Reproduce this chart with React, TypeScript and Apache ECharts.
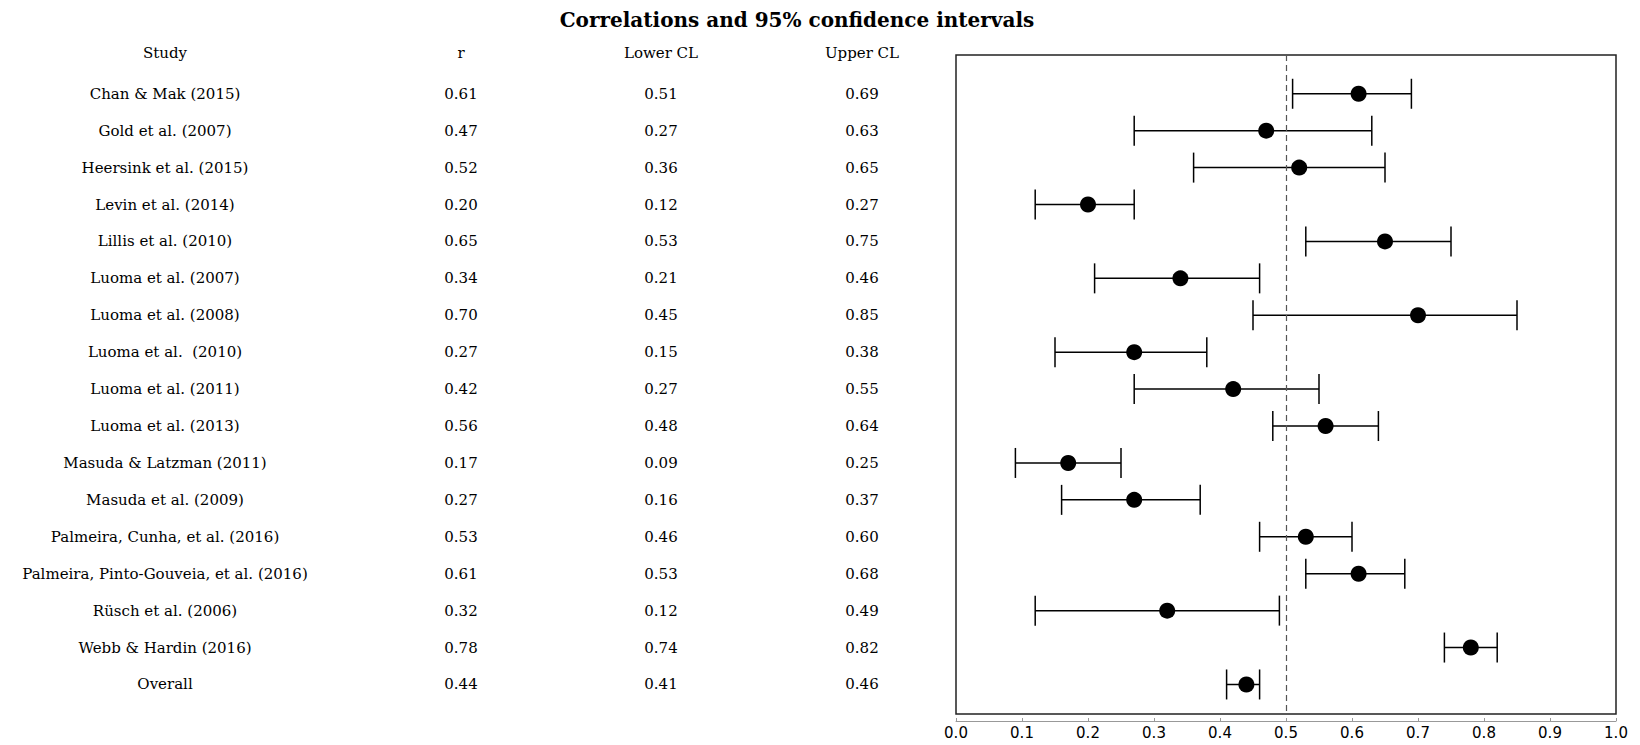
import React, { useEffect, useRef } from "react";
import * as echarts from "echarts";

const studies = [
  "Chan & Mak (2015)",
  "Gold et al. (2007)",
  "Heersink et al. (2015)",
  "Levin et al. (2014)",
  "Lillis et al. (2010)",
  "Luoma et al. (2007)",
  "Luoma et al. (2008)",
  "Luoma et al.  (2010)",
  "Luoma et al. (2011)",
  "Luoma et al. (2013)",
  "Masuda & Latzman (2011)",
  "Masuda et al. (2009)",
  "Palmeira, Cunha, et al. (2016)",
  "Palmeira, Pinto-Gouveia, et al. (2016)",
  "Rüsch et al. (2006)",
  "Webb & Hardin (2016)",
  "Overall",
];
const rValues = [0.61, 0.47, 0.52, 0.2, 0.65, 0.34, 0.7, 0.27, 0.42, 0.56, 0.17, 0.27, 0.53, 0.61, 0.32, 0.78, 0.44];
const lowerCL = [0.51, 0.27, 0.36, 0.12, 0.53, 0.21, 0.45, 0.15, 0.27, 0.48, 0.09, 0.16, 0.46, 0.53, 0.12, 0.74, 0.41];
const upperCL = [0.69, 0.63, 0.65, 0.27, 0.75, 0.46, 0.85, 0.38, 0.55, 0.64, 0.25, 0.37, 0.6, 0.68, 0.49, 0.82, 0.46];
const headers = ["Study", "r", "Lower CL", "Upper CL"];
const referenceLine = 0.5;

const FONT = "DejaVu Serif";

export default function App() {
  const ref = useRef<HTMLDivElement>(null);
  useEffect(() => {
    if (!ref.current) return;
    const chart = echarts.init(ref.current, null, { renderer: "svg" });
    const colX = [165, 461, 661, 862];
    const anchorX = 1000;
    const yMin = -1.05;
    const yMax = 16.8;
    const gridTop = 55;
    const gridBottom = 31;
    const plotH = 745 - gridTop - gridBottom;
    const rowH = plotH / (yMax - yMin);
    const firstRowY = gridTop + (0 - yMin) * rowH;
    const tableTop = firstRowY - rowH / 2;
    const columns = [
      studies,
      rValues.map((v) => v.toFixed(2)),
      lowerCL.map((v) => v.toFixed(2)),
      upperCL.map((v) => v.toFixed(2)),
    ];
    const idx = studies.map((_, i) => i);
    chart.setOption({
      animation: false,
      title: {
        text: "Correlations and 95% confidence intervals",
        left: 792,
        top: 5,
        textAlign: "center",
        textStyle: { fontFamily: FONT, fontWeight: "bold", fontSize: 20, color: "#000" },
      },
      graphic: headers.map((h, i) => ({
        type: "text",
        x: colX[i],
        y: 53,
        style: { text: h, fontFamily: FONT, fontSize: 15, fill: "#000", textAlign: "center", textVerticalAlign: "middle" },
      })),
      grid: [
        { left: 956, right: 24, top: gridTop, bottom: gridBottom, show: true, borderColor: "#222", borderWidth: 1.5, backgroundColor: "transparent" },
        { left: anchorX, width: 1, top: tableTop, height: rowH * studies.length },
      ],
      xAxis: [
        {
          type: "value",
          gridIndex: 0,
          min: 0,
          max: 1,
          interval: 0.1,
          offset: 7,
          axisLine: { show: true, onZero: false, lineStyle: { color: "#999", width: 1 } },
          axisTick: { show: true, inside: true, length: 3, lineStyle: { color: "#999" } },
          splitLine: { show: false },
          axisLabel: { formatter: (v: number) => v.toFixed(1), fontFamily: "DejaVu Sans", fontSize: 15, color: "#000", margin: 4 },
        },
        { type: "value", gridIndex: 1, show: false },
      ],
      yAxis: [
        { type: "value", gridIndex: 0, inverse: true, min: yMin, max: yMax, show: false, splitLine: { show: false } },
        ...columns.map((col, i) => ({
          type: "category",
          gridIndex: 1,
          inverse: true,
          data: col,
          position: "left",
          offset: anchorX - colX[i],
          axisLine: { show: false },
          axisTick: { show: false },
          splitLine: { show: false },
          axisLabel: { interval: 0, align: "center", margin: 0, fontFamily: FONT, fontSize: 15, color: "#000", hideOverlap: false },
        })),
      ],
      series: [
        {
          type: "custom",
          xAxisIndex: 0,
          yAxisIndex: 0,
          data: idx.map((i) => [lowerCL[i], upperCL[i], i]),
          encode: { x: [0, 1], y: 2 },
          renderItem: (params: any, api: any) => {
            const y = api.value(2);
            const p1 = api.coord([api.value(0), y]);
            const p2 = api.coord([api.value(1), y]);
            const h = 15;
            const st = { stroke: "#000", lineWidth: 1.5 };
            return {
              type: "group",
              children: [
                { type: "line", shape: { x1: p1[0], y1: p1[1], x2: p2[0], y2: p2[1] }, style: st },
                { type: "line", shape: { x1: p1[0], y1: p1[1] - h, x2: p1[0], y2: p1[1] + h }, style: st },
                { type: "line", shape: { x1: p2[0], y1: p2[1] - h, x2: p2[0], y2: p2[1] + h }, style: st },
              ],
            };
          },
          z: 2,
        },
        {
          type: "scatter",
          xAxisIndex: 0,
          yAxisIndex: 0,
          data: idx.map((i) => [rValues[i], i]),
          symbol: "circle",
          symbolSize: 16,
          itemStyle: { color: "#000", opacity: 1 },
          z: 3,
          markLine: {
            silent: true,
            symbol: "none",
            label: { show: false },
            lineStyle: { type: [6, 4], color: "#555", width: 1.2 },
            data: [{ xAxis: referenceLine }],
          },
        },
      ],
    });
    return () => chart.dispose();
  }, []);
  return <div ref={ref} style={{ position: "fixed", left: 0, top: 0, width: 1640, height: 745, background: "#fff" }} />;
}
